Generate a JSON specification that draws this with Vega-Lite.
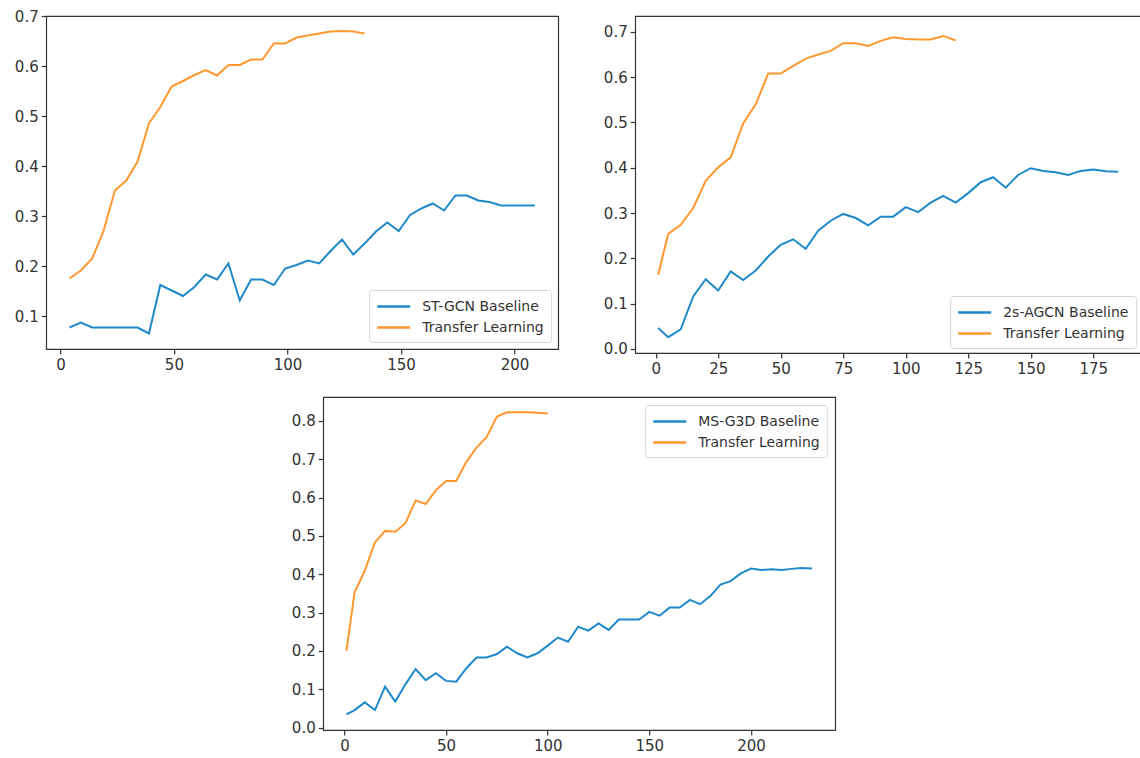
{
  "$schema": "https://vega.github.io/schema/vega-lite/v6.json",
  "background": "white",
  "padding": {"left": 13, "top": 8, "right": 0, "bottom": 0},
  "config": {
    "font": "DejaVu Sans",
    "view": {"stroke": "#333", "strokeWidth": 1.2},
    "axis": {"domain": false, "grid": false, "ticks": true, "tickSize": 5, "tickColor": "#333", "tickWidth": 1.2, "labelFontSize": 15, "labelColor": "#333", "labelFont": "DejaVu Sans", "title": null, "labelPadding": 3},
    "legend": {"labelFontSize": 14, "labelColor": "#333", "labelFont": "DejaVu Sans", "symbolType": "M-2,0H2", "symbolStrokeWidth": 2.5, "symbolSize": 272, "symbolOffset": 8, "strokeColor": "#d4d4d4", "fillColor": "white", "cornerRadius": 3, "padding": 7, "offset": 7, "title": null, "labelOffset": 19, "rowPadding": 4}
  },
  "datasets": {
    "p1": [
      {"x": 4, "y": 0.175, "series": "Transfer Learning"},
      {"x": 9, "y": 0.191, "series": "Transfer Learning"},
      {"x": 14, "y": 0.215, "series": "Transfer Learning"},
      {"x": 19, "y": 0.27, "series": "Transfer Learning"},
      {"x": 24, "y": 0.351, "series": "Transfer Learning"},
      {"x": 29, "y": 0.371, "series": "Transfer Learning"},
      {"x": 34, "y": 0.409, "series": "Transfer Learning"},
      {"x": 39, "y": 0.485, "series": "Transfer Learning"},
      {"x": 44, "y": 0.518, "series": "Transfer Learning"},
      {"x": 49, "y": 0.559, "series": "Transfer Learning"},
      {"x": 54, "y": 0.57, "series": "Transfer Learning"},
      {"x": 59, "y": 0.582, "series": "Transfer Learning"},
      {"x": 64, "y": 0.592, "series": "Transfer Learning"},
      {"x": 69, "y": 0.581, "series": "Transfer Learning"},
      {"x": 74, "y": 0.602, "series": "Transfer Learning"},
      {"x": 79, "y": 0.602, "series": "Transfer Learning"},
      {"x": 84, "y": 0.613, "series": "Transfer Learning"},
      {"x": 89, "y": 0.613, "series": "Transfer Learning"},
      {"x": 94, "y": 0.645, "series": "Transfer Learning"},
      {"x": 99, "y": 0.645, "series": "Transfer Learning"},
      {"x": 104, "y": 0.657, "series": "Transfer Learning"},
      {"x": 109, "y": 0.661, "series": "Transfer Learning"},
      {"x": 114, "y": 0.665, "series": "Transfer Learning"},
      {"x": 119, "y": 0.669, "series": "Transfer Learning"},
      {"x": 124, "y": 0.67, "series": "Transfer Learning"},
      {"x": 129, "y": 0.669, "series": "Transfer Learning"},
      {"x": 134, "y": 0.665, "series": "Transfer Learning"},
      {"x": 4, "y": 0.077, "series": "ST-GCN Baseline"},
      {"x": 9, "y": 0.087, "series": "ST-GCN Baseline"},
      {"x": 14, "y": 0.077, "series": "ST-GCN Baseline"},
      {"x": 19, "y": 0.077, "series": "ST-GCN Baseline"},
      {"x": 24, "y": 0.077, "series": "ST-GCN Baseline"},
      {"x": 29, "y": 0.077, "series": "ST-GCN Baseline"},
      {"x": 34, "y": 0.077, "series": "ST-GCN Baseline"},
      {"x": 39, "y": 0.065, "series": "ST-GCN Baseline"},
      {"x": 44, "y": 0.162, "series": "ST-GCN Baseline"},
      {"x": 49, "y": 0.151, "series": "ST-GCN Baseline"},
      {"x": 54, "y": 0.14, "series": "ST-GCN Baseline"},
      {"x": 59, "y": 0.158, "series": "ST-GCN Baseline"},
      {"x": 64, "y": 0.183, "series": "ST-GCN Baseline"},
      {"x": 69, "y": 0.173, "series": "ST-GCN Baseline"},
      {"x": 74, "y": 0.205, "series": "ST-GCN Baseline"},
      {"x": 79, "y": 0.131, "series": "ST-GCN Baseline"},
      {"x": 84, "y": 0.173, "series": "ST-GCN Baseline"},
      {"x": 89, "y": 0.173, "series": "ST-GCN Baseline"},
      {"x": 94, "y": 0.162, "series": "ST-GCN Baseline"},
      {"x": 99, "y": 0.195, "series": "ST-GCN Baseline"},
      {"x": 104, "y": 0.202, "series": "ST-GCN Baseline"},
      {"x": 109, "y": 0.211, "series": "ST-GCN Baseline"},
      {"x": 114, "y": 0.205, "series": "ST-GCN Baseline"},
      {"x": 119, "y": 0.23, "series": "ST-GCN Baseline"},
      {"x": 124, "y": 0.253, "series": "ST-GCN Baseline"},
      {"x": 129, "y": 0.223, "series": "ST-GCN Baseline"},
      {"x": 134, "y": 0.245, "series": "ST-GCN Baseline"},
      {"x": 139, "y": 0.269, "series": "ST-GCN Baseline"},
      {"x": 144, "y": 0.287, "series": "ST-GCN Baseline"},
      {"x": 149, "y": 0.27, "series": "ST-GCN Baseline"},
      {"x": 154, "y": 0.302, "series": "ST-GCN Baseline"},
      {"x": 159, "y": 0.315, "series": "ST-GCN Baseline"},
      {"x": 164, "y": 0.325, "series": "ST-GCN Baseline"},
      {"x": 169, "y": 0.311, "series": "ST-GCN Baseline"},
      {"x": 174, "y": 0.341, "series": "ST-GCN Baseline"},
      {"x": 179, "y": 0.341, "series": "ST-GCN Baseline"},
      {"x": 184, "y": 0.331, "series": "ST-GCN Baseline"},
      {"x": 189, "y": 0.328, "series": "ST-GCN Baseline"},
      {"x": 194, "y": 0.321, "series": "ST-GCN Baseline"},
      {"x": 199, "y": 0.321, "series": "ST-GCN Baseline"},
      {"x": 204, "y": 0.321, "series": "ST-GCN Baseline"},
      {"x": 209, "y": 0.321, "series": "ST-GCN Baseline"}
    ],
    "p2": [
      {"x": 1, "y": 0.164, "series": "Transfer Learning"},
      {"x": 5, "y": 0.254, "series": "Transfer Learning"},
      {"x": 10, "y": 0.274, "series": "Transfer Learning"},
      {"x": 15, "y": 0.311, "series": "Transfer Learning"},
      {"x": 20, "y": 0.371, "series": "Transfer Learning"},
      {"x": 25, "y": 0.401, "series": "Transfer Learning"},
      {"x": 30, "y": 0.423, "series": "Transfer Learning"},
      {"x": 35, "y": 0.498, "series": "Transfer Learning"},
      {"x": 40, "y": 0.54, "series": "Transfer Learning"},
      {"x": 45, "y": 0.608, "series": "Transfer Learning"},
      {"x": 50, "y": 0.608, "series": "Transfer Learning"},
      {"x": 55, "y": 0.625, "series": "Transfer Learning"},
      {"x": 60, "y": 0.641, "series": "Transfer Learning"},
      {"x": 65, "y": 0.65, "series": "Transfer Learning"},
      {"x": 70, "y": 0.658, "series": "Transfer Learning"},
      {"x": 75, "y": 0.675, "series": "Transfer Learning"},
      {"x": 80, "y": 0.675, "series": "Transfer Learning"},
      {"x": 85, "y": 0.669, "series": "Transfer Learning"},
      {"x": 90, "y": 0.68, "series": "Transfer Learning"},
      {"x": 95, "y": 0.688, "series": "Transfer Learning"},
      {"x": 100, "y": 0.684, "series": "Transfer Learning"},
      {"x": 105, "y": 0.683, "series": "Transfer Learning"},
      {"x": 110, "y": 0.683, "series": "Transfer Learning"},
      {"x": 115, "y": 0.691, "series": "Transfer Learning"},
      {"x": 120, "y": 0.681, "series": "Transfer Learning"},
      {"x": 1, "y": 0.046, "series": "2s-AGCN Baseline"},
      {"x": 5, "y": 0.026, "series": "2s-AGCN Baseline"},
      {"x": 10, "y": 0.043, "series": "2s-AGCN Baseline"},
      {"x": 15, "y": 0.116, "series": "2s-AGCN Baseline"},
      {"x": 20, "y": 0.154, "series": "2s-AGCN Baseline"},
      {"x": 25, "y": 0.129, "series": "2s-AGCN Baseline"},
      {"x": 30, "y": 0.171, "series": "2s-AGCN Baseline"},
      {"x": 35, "y": 0.152, "series": "2s-AGCN Baseline"},
      {"x": 40, "y": 0.173, "series": "2s-AGCN Baseline"},
      {"x": 45, "y": 0.204, "series": "2s-AGCN Baseline"},
      {"x": 50, "y": 0.23, "series": "2s-AGCN Baseline"},
      {"x": 55, "y": 0.242, "series": "2s-AGCN Baseline"},
      {"x": 60, "y": 0.221, "series": "2s-AGCN Baseline"},
      {"x": 65, "y": 0.261, "series": "2s-AGCN Baseline"},
      {"x": 70, "y": 0.283, "series": "2s-AGCN Baseline"},
      {"x": 75, "y": 0.298, "series": "2s-AGCN Baseline"},
      {"x": 80, "y": 0.289, "series": "2s-AGCN Baseline"},
      {"x": 85, "y": 0.273, "series": "2s-AGCN Baseline"},
      {"x": 90, "y": 0.292, "series": "2s-AGCN Baseline"},
      {"x": 95, "y": 0.292, "series": "2s-AGCN Baseline"},
      {"x": 100, "y": 0.313, "series": "2s-AGCN Baseline"},
      {"x": 105, "y": 0.302, "series": "2s-AGCN Baseline"},
      {"x": 110, "y": 0.323, "series": "2s-AGCN Baseline"},
      {"x": 115, "y": 0.338, "series": "2s-AGCN Baseline"},
      {"x": 120, "y": 0.323, "series": "2s-AGCN Baseline"},
      {"x": 125, "y": 0.344, "series": "2s-AGCN Baseline"},
      {"x": 130, "y": 0.368, "series": "2s-AGCN Baseline"},
      {"x": 135, "y": 0.379, "series": "2s-AGCN Baseline"},
      {"x": 140, "y": 0.356, "series": "2s-AGCN Baseline"},
      {"x": 145, "y": 0.384, "series": "2s-AGCN Baseline"},
      {"x": 150, "y": 0.399, "series": "2s-AGCN Baseline"},
      {"x": 155, "y": 0.393, "series": "2s-AGCN Baseline"},
      {"x": 160, "y": 0.39, "series": "2s-AGCN Baseline"},
      {"x": 165, "y": 0.384, "series": "2s-AGCN Baseline"},
      {"x": 170, "y": 0.393, "series": "2s-AGCN Baseline"},
      {"x": 175, "y": 0.396, "series": "2s-AGCN Baseline"},
      {"x": 180, "y": 0.392, "series": "2s-AGCN Baseline"},
      {"x": 185, "y": 0.391, "series": "2s-AGCN Baseline"}
    ],
    "p3": [
      {"x": 1, "y": 0.201, "series": "Transfer Learning"},
      {"x": 5, "y": 0.353, "series": "Transfer Learning"},
      {"x": 10, "y": 0.409, "series": "Transfer Learning"},
      {"x": 15, "y": 0.483, "series": "Transfer Learning"},
      {"x": 20, "y": 0.513, "series": "Transfer Learning"},
      {"x": 25, "y": 0.511, "series": "Transfer Learning"},
      {"x": 30, "y": 0.533, "series": "Transfer Learning"},
      {"x": 35, "y": 0.592, "series": "Transfer Learning"},
      {"x": 40, "y": 0.583, "series": "Transfer Learning"},
      {"x": 45, "y": 0.619, "series": "Transfer Learning"},
      {"x": 50, "y": 0.643, "series": "Transfer Learning"},
      {"x": 55, "y": 0.643, "series": "Transfer Learning"},
      {"x": 60, "y": 0.693, "series": "Transfer Learning"},
      {"x": 65, "y": 0.73, "series": "Transfer Learning"},
      {"x": 70, "y": 0.758, "series": "Transfer Learning"},
      {"x": 75, "y": 0.811, "series": "Transfer Learning"},
      {"x": 80, "y": 0.822, "series": "Transfer Learning"},
      {"x": 85, "y": 0.822, "series": "Transfer Learning"},
      {"x": 90, "y": 0.822, "series": "Transfer Learning"},
      {"x": 95, "y": 0.821, "series": "Transfer Learning"},
      {"x": 100, "y": 0.819, "series": "Transfer Learning"},
      {"x": 1, "y": 0.035, "series": "MS-G3D Baseline"},
      {"x": 5, "y": 0.046, "series": "MS-G3D Baseline"},
      {"x": 10, "y": 0.066, "series": "MS-G3D Baseline"},
      {"x": 15, "y": 0.046, "series": "MS-G3D Baseline"},
      {"x": 20, "y": 0.107, "series": "MS-G3D Baseline"},
      {"x": 25, "y": 0.068, "series": "MS-G3D Baseline"},
      {"x": 30, "y": 0.113, "series": "MS-G3D Baseline"},
      {"x": 35, "y": 0.153, "series": "MS-G3D Baseline"},
      {"x": 40, "y": 0.124, "series": "MS-G3D Baseline"},
      {"x": 45, "y": 0.142, "series": "MS-G3D Baseline"},
      {"x": 50, "y": 0.122, "series": "MS-G3D Baseline"},
      {"x": 55, "y": 0.12, "series": "MS-G3D Baseline"},
      {"x": 60, "y": 0.155, "series": "MS-G3D Baseline"},
      {"x": 65, "y": 0.183, "series": "MS-G3D Baseline"},
      {"x": 70, "y": 0.183, "series": "MS-G3D Baseline"},
      {"x": 75, "y": 0.192, "series": "MS-G3D Baseline"},
      {"x": 80, "y": 0.211, "series": "MS-G3D Baseline"},
      {"x": 85, "y": 0.194, "series": "MS-G3D Baseline"},
      {"x": 90, "y": 0.183, "series": "MS-G3D Baseline"},
      {"x": 95, "y": 0.194, "series": "MS-G3D Baseline"},
      {"x": 100, "y": 0.214, "series": "MS-G3D Baseline"},
      {"x": 105, "y": 0.235, "series": "MS-G3D Baseline"},
      {"x": 110, "y": 0.224, "series": "MS-G3D Baseline"},
      {"x": 115, "y": 0.263, "series": "MS-G3D Baseline"},
      {"x": 120, "y": 0.253, "series": "MS-G3D Baseline"},
      {"x": 125, "y": 0.272, "series": "MS-G3D Baseline"},
      {"x": 130, "y": 0.255, "series": "MS-G3D Baseline"},
      {"x": 135, "y": 0.282, "series": "MS-G3D Baseline"},
      {"x": 140, "y": 0.282, "series": "MS-G3D Baseline"},
      {"x": 145, "y": 0.282, "series": "MS-G3D Baseline"},
      {"x": 150, "y": 0.302, "series": "MS-G3D Baseline"},
      {"x": 155, "y": 0.292, "series": "MS-G3D Baseline"},
      {"x": 160, "y": 0.313, "series": "MS-G3D Baseline"},
      {"x": 165, "y": 0.313, "series": "MS-G3D Baseline"},
      {"x": 170, "y": 0.333, "series": "MS-G3D Baseline"},
      {"x": 175, "y": 0.322, "series": "MS-G3D Baseline"},
      {"x": 180, "y": 0.343, "series": "MS-G3D Baseline"},
      {"x": 185, "y": 0.373, "series": "MS-G3D Baseline"},
      {"x": 190, "y": 0.382, "series": "MS-G3D Baseline"},
      {"x": 195, "y": 0.402, "series": "MS-G3D Baseline"},
      {"x": 200, "y": 0.415, "series": "MS-G3D Baseline"},
      {"x": 205, "y": 0.411, "series": "MS-G3D Baseline"},
      {"x": 210, "y": 0.413, "series": "MS-G3D Baseline"},
      {"x": 215, "y": 0.411, "series": "MS-G3D Baseline"},
      {"x": 220, "y": 0.414, "series": "MS-G3D Baseline"},
      {"x": 225, "y": 0.416, "series": "MS-G3D Baseline"},
      {"x": 230, "y": 0.415, "series": "MS-G3D Baseline"}
    ]
  },
  "vconcat": [
    {
      "hconcat": [
        {
          "width": 512, "height": 333,
          "data": {"name": "p1"},
          "mark": {"type": "line", "strokeWidth": 2, "clip": true},
          "encoding": {
            "x": {"field": "x", "type": "quantitative", "scale": {"domain": [-6.25, 219.25], "nice": false, "zero": false}, "axis": {"values": [0, 50, 100, 150, 200]}},
            "y": {"field": "y", "type": "quantitative", "scale": {"domain": [0.034, 0.7], "nice": false, "zero": false}, "axis": {"values": [0.1, 0.2, 0.3, 0.4, 0.5, 0.6, 0.7], "format": ".1f"}},
            "color": {"field": "series", "type": "nominal", "scale": {"domain": ["ST-GCN Baseline", "Transfer Learning"], "range": ["#1f8ac9", "#ff9830"]}, "legend": {"orient": "bottom-right", "offset": 7}}
          }
        },
        {
          "width": 506, "height": 337,
          "data": {"name": "p2"},
          "mark": {"type": "line", "strokeWidth": 2, "clip": true},
          "encoding": {
            "x": {"field": "x", "type": "quantitative", "scale": {"domain": [-8.2, 194.2], "nice": false, "zero": false}, "axis": {"values": [0, 25, 50, 75, 100, 125, 150, 175]}},
            "y": {"field": "y", "type": "quantitative", "scale": {"domain": [-0.009, 0.735], "nice": false, "zero": false}, "axis": {"values": [0, 0.1, 0.2, 0.3, 0.4, 0.5, 0.6, 0.7], "format": ".1f"}},
            "color": {"field": "series", "type": "nominal", "scale": {"domain": ["2s-AGCN Baseline", "Transfer Learning"], "range": ["#1f8ac9", "#ff9830"]}, "legend": {"orient": "bottom-right", "offset": 5}}
          }
        }
      ],
      "spacing": 43,
      "resolve": {"scale": {"color": "independent"}, "legend": {"color": "independent"}}
    },
    {
      "width": 512, "height": 333,
      "title": {"text": " ", "orient": "right", "offset": 16, "fontSize": 13},
      "data": {"name": "p3"},
      "mark": {"type": "line", "strokeWidth": 2, "clip": true},
      "encoding": {
        "x": {"field": "x", "type": "quantitative", "scale": {"domain": [-10.45, 241.45], "nice": false, "zero": false}, "axis": {"values": [0, 50, 100, 150, 200]}},
        "y": {"field": "y", "type": "quantitative", "scale": {"domain": [-0.006, 0.862], "nice": false, "zero": false}, "axis": {"values": [0, 0.1, 0.2, 0.3, 0.4, 0.5, 0.6, 0.7, 0.8], "format": ".1f"}},
        "color": {"field": "series", "type": "nominal", "scale": {"domain": ["MS-G3D Baseline", "Transfer Learning"], "range": ["#1f8ac9", "#ff9830"]}, "legend": {"orient": "top-right", "offset": 8}}
      }
    }
  ],
  "spacing": 19,
  "center": true,
  "resolve": {"scale": {"color": "independent"}, "legend": {"color": "independent"}}
}
